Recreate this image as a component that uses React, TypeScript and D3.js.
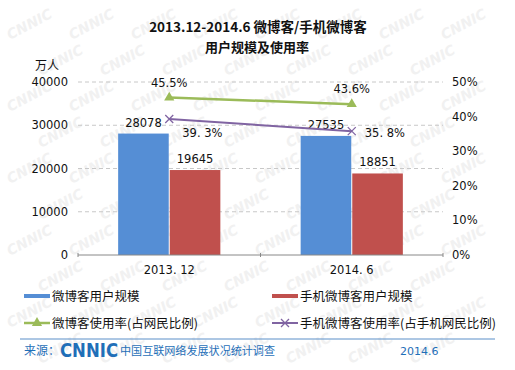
import React from "react"
import * as d3 from "d3"

const width = 515
const height = 370

const categories = ["2013. 12", "2014. 6"]
const seriesNames = ["微博客用户规模", "手机微博客用户规模"]
const weiboUsers = [28078, 27535]
const mobileWeiboUsers = [19645, 18851]
const weiboRate = [45.5, 43.6]
const mobileWeiboRate = [39.3, 35.8]
const leftTicks = [0, 10000, 20000, 30000, 40000]
const rightTicks = [0, 10, 20, 30, 40, 50]

const blue = "#558ED5"
const red = "#C0504D"
const green = "#9BBB59"
const purple = "#8064A2"
const footBlue = "#1F6FB8"
const cjk = "'Noto Sans CJK SC', 'DejaVu Sans', sans-serif"
const num = "'DejaVu Sans', 'Liberation Sans', sans-serif"

const plot = { left: 78, right: 443, top: 82, bottom: 255 }

export default function App() {
  const x0 = d3.scaleBand().domain(categories).range([plot.left, plot.right])
  const bw = x0.bandwidth()
  const x1 = d3
    .scaleBand()
    .domain(seriesNames)
    .range([bw * 0.22, bw * 0.78])
    .paddingInner(0.02)
  const yL = d3.scaleLinear().domain([0, 40000]).range([plot.bottom, plot.top])
  const yR = d3.scaleLinear().domain([0, 50]).range([plot.bottom, plot.top])
  const cx = (c: string) => (x0(c) as number) + bw / 2

  const line = d3
    .line<number>()
    .x((_, i) => cx(categories[i]))
    .y(d => yR(d))

  const barSeries = [
    { name: seriesNames[0], values: weiboUsers, color: blue },
    { name: seriesNames[1], values: mobileWeiboUsers, color: red },
  ]

  const tri = d3.symbol().type(d3.symbolTriangle).size(45)()

  // watermark grid, kept inside the picture
  const marks: [number, number][] = []
  d3.range(0, 10).forEach(r => {
    d3.range(0, 9).forEach(c => {
      const mx = c * 62 + (r % 2 ? 31 : 0) + 10
      const my = r * 36 + 40
      if (mx + 48 < width && my < height - 2) marks.push([mx, my])
    })
  })

  return (
    <svg width={width} height={height} style={{ position: "absolute", left: 0, top: 0, background: "#fff" }}>
      <rect width={width} height={height} fill="#fff" />
      <g fontFamily={num} fontWeight="bold" fontSize={14} fill="#f1f1f1" fontStyle="italic">
        {marks.map(([mx, my], i) => (
          <text key={i} x={mx} y={my} transform={`rotate(-28, ${mx}, ${my})`}>
            CNNIC
          </text>
        ))}
      </g>

      {/* title */}
      <text x={258} y={32} textAnchor="middle" fontFamily={cjk} fontWeight="bold" fontSize={13.5} fill="#111">
        2013.12-2014.6 微博客/手机微博客
      </text>
      <text x={257} y={52} textAnchor="middle" fontFamily={cjk} fontWeight="bold" fontSize={13} fill="#111">
        用户规模及使用率
      </text>
      <text x={47} y={70} textAnchor="middle" fontFamily={cjk} fontSize={12} fill="#111">
        万人
      </text>

      {/* gridlines */}
      {leftTicks.slice(1).map(t => (
        <line key={t} x1={plot.left} x2={plot.right} y1={yL(t)} y2={yL(t)} stroke="#c8c8c8" strokeDasharray="4,3" />
      ))}

      {/* axis labels */}
      <g fontFamily={num} fontSize={11.5} fill="#111" textAnchor="end">
        {leftTicks.map(t => (
          <text key={t} x={68} y={yL(t) + 4}>
            {t}
          </text>
        ))}
      </g>
      <g fontFamily={num} fontSize={11.5} fill="#111">
        {rightTicks.map(t => (
          <text key={t} x={452} y={yR(t) + 4}>
            {t}%
          </text>
        ))}
      </g>

      {/* bars */}
      {barSeries.map(s =>
        s.values.map((v, i) => {
          const bx = (x0(categories[i]) as number) + (x1(s.name) as number)
          return (
            <g key={s.name + i}>
              <rect x={bx} y={yL(v)} width={x1.bandwidth()} height={plot.bottom - yL(v)} fill={s.color} />
              <text
                x={bx + x1.bandwidth() / 2}
                y={yL(v) - 7}
                textAnchor="middle"
                fontFamily={num}
                fontSize={11.5}
                fill="#111"
              >
                {v}
              </text>
            </g>
          )
        })
      )}

      {/* x axis */}
      <line x1={plot.left} x2={plot.right} y1={plot.bottom} y2={plot.bottom} stroke="#888" />
      {[plot.left, plot.left + bw, plot.right].map(t => (
        <line key={t} x1={t} x2={t} y1={plot.bottom - 2} y2={plot.bottom + 2} stroke="#888" />
      ))}
      {categories.map(c => (
        <text key={c} x={cx(c)} y={274} textAnchor="middle" fontFamily={num} fontSize={11.5} fill="#111">
          {c}
        </text>
      ))}

      {/* lines */}
      <path d={line(weiboRate) as string} fill="none" stroke={green} strokeWidth={2.5} />
      {weiboRate.map((v, i) => (
        <g key={"g" + i}>
          <path d={tri as string} transform={`translate(${cx(categories[i])},${yR(v)})`} fill={green} />
          <text x={cx(categories[i])} y={yR(v) - 11} textAnchor="middle" fontFamily={num} fontSize={11.5} fill="#111">
            {v.toFixed(1)}%
          </text>
        </g>
      ))}
      <path d={line(mobileWeiboRate) as string} fill="none" stroke={purple} strokeWidth={2} />
      {mobileWeiboRate.map((v, i) => {
        const px = cx(categories[i])
        const py = yR(v)
        return (
          <g key={"p" + i}>
            <path d={`M${px - 4},${py - 4}L${px + 4},${py + 4}M${px - 4},${py + 4}L${px + 4},${py - 4}`} stroke={purple} strokeWidth={1.3} />
            <text x={px + 13} y={py + (i === 0 ? 18 : 6)} fontFamily={num} fontSize={11.5} fill="#111">
              {v.toFixed(1).replace(".", ". ")}%
            </text>
          </g>
        )
      })}

      {/* legend */}
      <g fontFamily={cjk} fontSize={12.5} fill="#111">
        <rect x={24} y={294} width={26} height={4} fill={blue} />
        <text x={52} y={301}>{seriesNames[0]}</text>
        <rect x={272} y={294} width={26} height={4} fill={red} />
        <text x={300} y={301}>{seriesNames[1]}</text>
        <line x1={24} x2={50} y1={323} y2={323} stroke={green} strokeWidth={2.5} />
        <path d={tri as string} transform="translate(37,323)" fill={green} />
        <text x={52} y={328}>微博客使用率(占网民比例)</text>
        <line x1={272} x2={298} y1={323} y2={323} stroke={purple} strokeWidth={2} />
        <path d="M281,319L289,327M281,327L289,319" stroke={purple} strokeWidth={1.3} />
        <text x={300} y={328}>手机微博客使用率(占手机网民比例)</text>
      </g>

      {/* footer */}
      <line x1={20} x2={495} y1={339} y2={339} stroke="#5B8FC8" strokeWidth={1} />
      <text x={24} y={355} fontFamily={cjk} fontSize={12} fill={footBlue}>
        来源：
      </text>
      <text
        x={60}
        y={357}
        fontFamily={num}
        fontWeight="bold"
        fontSize={19}
        fill={footBlue}
        textLength={58}
        lengthAdjust="spacingAndGlyphs"
      >
        CNNIC
      </text>
      <text x={120} y={355} fontFamily={cjk} fontSize={11} fill={footBlue} textLength={155} lengthAdjust="spacingAndGlyphs">
        中国互联网络发展状况统计调查
      </text>
      <text x={400} y={355} fontFamily={num} fontSize={11} fill={footBlue}>
        2014.6
      </text>
    </svg>
  )
}
